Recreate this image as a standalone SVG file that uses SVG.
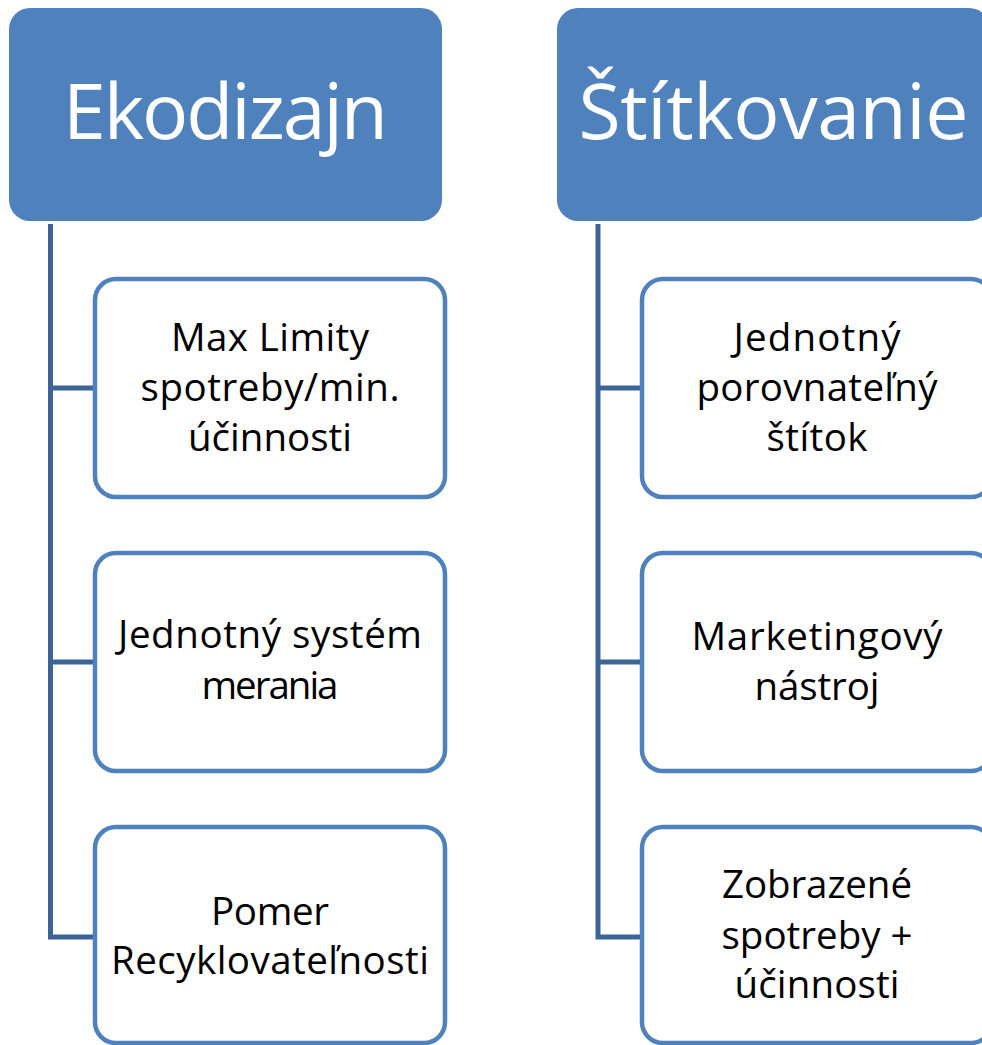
<svg xmlns="http://www.w3.org/2000/svg" width="982" height="1045" viewBox="0 0 982 1045">
<style>
.hdr{fill:#4F81BD}
.hdr-t{font-family:"Open Sans","Noto Sans","Liberation Sans",sans-serif;font-size:77px;fill:#FFFFFF;text-anchor:middle}
.box{fill:#FFFFFF;stroke:#4F81BD;stroke-width:4.5}
.box-t{font-family:"Open Sans","Noto Sans","Liberation Sans",sans-serif;font-size:38.5px;fill:#000000;text-anchor:middle}
.conn{fill:none;stroke:#3C6496;stroke-width:5;stroke-linejoin:miter}
</style>
<rect width="982" height="1045" fill="#FFFFFF"/>
<g id="connectors">
<path class="conn" d="M50.5,224 V937 H94 M50.5,388 H94 M50.5,662 H94"/>
<path class="conn" d="M598,224 V937 H642 M598,388 H642 M598,662 H642"/>
</g>
<g id="ekodizajn">
<rect class="hdr" x="9" y="8" width="433" height="213" rx="21"/>
<text class="hdr-t" x="225.5" y="139" textLength="325">Ekodizajn</text>
</g>
<g id="stitkovanie">
<rect class="hdr" x="557" y="8" width="433" height="213" rx="21"/>
<text class="hdr-t" x="773.5" y="139" textLength="390">Štítkovanie</text>
</g>
<g id="max-limity">
<rect class="box" x="95" y="279" width="350" height="218" rx="21"/>
<text class="box-t" x="270" y="351" textLength="198">Max Limity</text>
<text class="box-t" x="270" y="401" textLength="259">spotreby/min.</text>
<text class="box-t" x="270" y="451" textLength="164">účinnosti</text>
</g>
<g id="jednotny-system">
<rect class="box" x="95" y="553" width="350" height="218" rx="21"/>
<text class="box-t" x="270" y="648" textLength="304">Jednotný systém</text>
<text class="box-t" x="270" y="699" textLength="137">merania</text>
</g>
<g id="pomer">
<rect class="box" x="95" y="827" width="350" height="216" rx="21"/>
<text class="box-t" x="270" y="925" textLength="118">Pomer</text>
<text class="box-t" x="270" y="974" textLength="318">Recyklovateľnosti</text>
</g>
<g id="jednotny-stitok">
<rect class="box" x="642" y="279" width="350" height="218" rx="21"/>
<text class="box-t" x="817" y="351" textLength="167">Jednotný</text>
<text class="box-t" x="817" y="401" textLength="241">porovnateľný</text>
<text class="box-t" x="817" y="451" textLength="101">štítok</text>
</g>
<g id="marketingovy">
<rect class="box" x="642" y="553" width="350" height="218" rx="21"/>
<text class="box-t" x="817" y="650" textLength="251">Marketingový</text>
<text class="box-t" x="817" y="700" textLength="125">nástroj</text>
</g>
<g id="zobrazene">
<rect class="box" x="642" y="827" width="350" height="216" rx="21"/>
<text class="box-t" x="817" y="898" textLength="190">Zobrazené</text>
<text class="box-t" x="817" y="949" textLength="191">spotreby +</text>
<text class="box-t" x="817" y="998" textLength="165">účinnosti</text>
</g>
</svg>
